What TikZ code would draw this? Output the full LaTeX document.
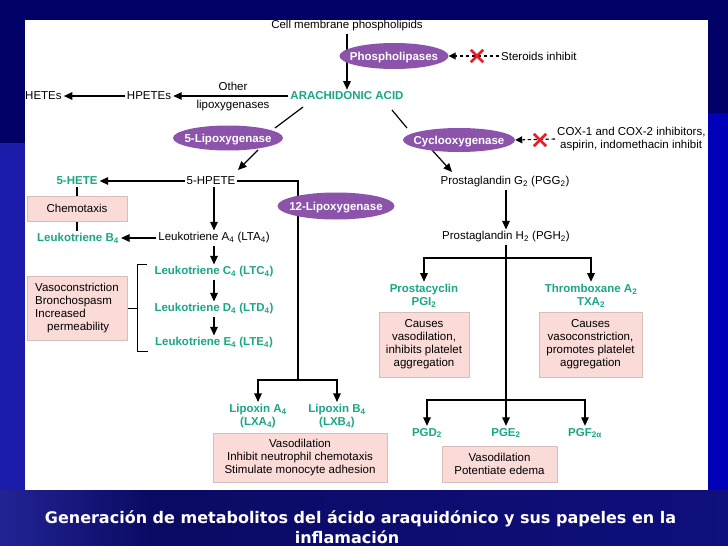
\documentclass[tikz,border=0pt]{standalone}
\usepackage{fontspec}
\setmainfont{Liberation Sans}
\newfontfamily\capfont{DejaVu Sans}
\usetikzlibrary{arrows.meta,shapes.geometric,calc}
\definecolor{navy}{RGB}{0,0,102}
\definecolor{blueR}{RGB}{0,0,185}
\definecolor{blueL}{RGB}{28,28,170}
\definecolor{grnc}{RGB}{27,166,136}
\definecolor{enzc}{RGB}{139,83,170}
\definecolor{pinkf}{RGB}{250,219,215}
\definecolor{pinkd}{RGB}{214,190,186}
\definecolor{xred}{RGB}{232,28,36}
\pgfdeclarelayer{bg}\pgfdeclarelayer{lines}\pgfsetlayers{bg,lines,main}
\begin{document}
\begin{tikzpicture}[x=1pt,y=-1pt,
 txt/.style={inner sep=2pt, font=\fontsize{11.5}{13}\selectfont, align=center},
 grn/.style={txt, text=grnc, font=\fontsize{11.5}{13}\selectfont\bfseries},
 enz/.style={ellipse, fill=enzc, inner sep=0pt},
 enzt/.style={inner sep=0pt, text=white, font=\fontsize{11.5}{13}\selectfont\bfseries},
 box/.style={draw=pinkd, fill=pinkf, line width=0.8pt, inner sep=0pt, align=center, font=\fontsize{11.5}{13}\selectfont},
 conn/.style={line width=1.2pt, black},
 arr/.style={conn, -{Triangle[length=8.5pt,width=7.5pt]}},
 darr/.style={line width=1.1pt, dash pattern=on 3.5pt off 2.5pt, -{Triangle[length=7pt,width=7pt]}},
 redx/.style={xred, line width=2.6pt},
 xbox/.style={inner sep=0pt, minimum width=12pt, minimum height=12pt},
 captxt/.style={text=white, inner sep=0pt, anchor=base, font=\capfont\bfseries\fontsize{16}{20}\selectfont},
]
\useasboundingbox (0,0) rectangle (728,546);
\begin{pgfonlayer}{bg}
\fill[navy] (0,0) rectangle (728,546);
\fill[blueL] (0,143) rectangle (25,490);
\fill[blueR] (708,113) rectangle (728,490);
\shade[left color={rgb,255:red,35;green,35;blue,150}, right color={rgb,255:red,10;green,10;blue,100}] (0,490) rectangle (150,546);
\shade[left color={rgb,255:red,10;green,10;blue,100}, right color={rgb,255:red,15;green,15;blue,125}] (150,490) rectangle (728,546);
\fill[white] (25,20) rectangle (708,490);
\end{pgfonlayer}

% enzymes
\node[enz, minimum width=109pt, minimum height=26pt] (phl) at (394,56) {};
\node[enzt] (phlt) at ($(phl)+(0,1.8)$) {Phospholipases};
\node[enz, minimum width=110pt, minimum height=25pt] (lox5) at (228,138) {};
\node[enzt] (lox5t) at ($(lox5)+(0,1.8)$) {5-Lipoxygenase};
\node[enz, minimum width=112pt, minimum height=24pt] (cox) at (459,140) {};
\node[enzt] (coxt) at ($(cox)+(0,1.8)$) {Cyclooxygenase};
\node[enz, minimum width=117pt, minimum height=27pt] (lox12) at (336,206) {};
\node[enzt] (lox12t) at ($(lox12)+(0,1.8)$) {12-Lipoxygenase};

% texts
\node[txt] (cell) at (347,26) {Cell membrane phospholipids};
\node[txt, anchor=west] (ster) at (499,56) {Steroids inhibit};
\node[grn] (ara) at (347,96) {ARACHIDONIC ACID};
\node[txt] (hpetes) at (149,96) {HPETEs};
\node[txt, anchor=west] (hetes) at (23,96) {HETEs};
\node[txt] (other) at (233,86) {Other};
\node[txt] (lipox) at (233,106) {lipoxygenases};
\node[txt, align=left, anchor=west] (coxinh) at (555,139) {COX-1 and COX-2 inhibitors,\\\hspace*{3pt}aspirin, indomethacin inhibit};
\node[txt] (hpete5) at (211,181) {5-HPETE};
\node[grn] (hete5) at (77,181) {5-HETE};
\node[box, minimum width=100pt, minimum height=25pt] (chemo) at (77,208.5) {Chemotaxis};
\node[grn] (ltb4) at (78,238) {Leukotriene B\textsubscript{4}};
\node[txt] (lta4) at (214,238) {Leukotriene A\textsubscript{4} (LTA\textsubscript{4})};
\node[grn] (ltc4) at (214,272) {Leukotriene C\textsubscript{4} (LTC\textsubscript{4})};
\node[grn] (ltd4) at (214,309) {Leukotriene D\textsubscript{4} (LTD\textsubscript{4})};
\node[grn] (lte4) at (214,343) {Leukotriene E\textsubscript{4} (LTE\textsubscript{4})};
\node[box, minimum width=100pt, minimum height=64pt, align=left] (vaso) at (77,308) {Vasoconstriction\\Bronchospasm\\Increased\\\hspace*{12pt}permeability};
\node[grn] (lxa4) at (258,416) {Lipoxin A\textsubscript{4}\\(LXA\textsubscript{4})};
\node[grn] (lxb4) at (337,416) {Lipoxin B\textsubscript{4}\\(LXB\textsubscript{4})};
\node[box, minimum width=174pt, minimum height=49pt] (lxbox) at (300,457.5) {Vasodilation\\Inhibit neutrophil chemotaxis\\Stimulate monocyte adhesion};
\node[txt] (pgg2) at (505,182) {Prostaglandin G\textsubscript{2} (PGG\textsubscript{2})};
\node[txt] (pgh2) at (506,237) {Prostaglandin H\textsubscript{2} (PGH\textsubscript{2})};
\node[grn] (pgi2) at (424,295.5) {Prostacyclin\\PGI\textsubscript{2}};
\node[grn] (txa2) at (591,295.5) {Thromboxane A\textsubscript{2}\\TXA\textsubscript{2}};
\node[box, minimum width=90pt, minimum height=65pt] (pgibox) at (424,344.5) {Causes\\vasodilation,\\inhibits platelet\\aggregation};
\node[box, minimum width=103pt, minimum height=65pt] (txbox) at (590.5,344.5) {Causes\\vasoconstriction,\\promotes platelet\\aggregation};
\node[grn] (pgd2) at (427,433) {PGD\textsubscript{2}};
\node[grn] (pge2) at (506,433) {PGE\textsubscript{2}};
\node[grn] (pgf2a) at (585,433) {PGF\textsubscript{2α}};
\node[box, minimum width=115pt, minimum height=36pt] (pgebox) at (499.5,464) {Vasodilation\\Potentiate edema};

% red crosses
\node[xbox] (xs) at (477,56) {};
\node[xbox] (xc) at (540,140) {};
\draw[redx] (xs.north west) -- (xs.south east) (xs.north east) -- (xs.south west);
\draw[redx] (xc.north west) -- (xc.south east) (xc.north east) -- (xc.south west);

% caption
\node[captxt] (cap1) at (360.5,523) {Generación de metabolitos del ácido araquidónico y sus papeles en la};
\node[captxt] (cap2) at (347,543) {inflamación};

% junctions
\coordinate (j12) at (298,380);
\coordinate (j1) at (506,258);
\coordinate (j2) at (506,400);
\coordinate (brt) at (147,264);
\coordinate (brb) at (148,351);
\coordinate (brm) at (137,308);

\begin{pgfonlayer}{lines}
\draw[arr] (cell.south) -- (ara.north);
\draw[darr] (ster.west) -- (phl.east);
\draw[darr] (coxinh.west) -- (cox.east);
\draw[arr] (ara.west) -- (hpetes.east);
\draw[arr] (hpetes.west) -- (hetes.east);
\draw[conn] ($(ara)+(-44,11)$) -- ($(lox5)+(47,-10)$);
\draw[arr] ($(lox5)+(30,12)$) -- ($(hpete5)+(27,-11)$);
\draw[conn] ($(ara)+(45,14)$) -- ($(cox)+(-52,-12)$);
\draw[arr] ($(cox)+(-27,10)$) -- ($(pgg2)+(-53,-10)$);
\draw[arr] (hpete5.west) -- (hete5.east);
\draw[conn] (hpete5.east) -| (j12);
\draw[arr] (j12) -| (lxa4.north);
\draw[arr] (j12) -| (lxb4.north);
\draw[conn] (hete5.south) -- (chemo.north);
\draw[conn] (chemo.south) -- (chemo.south |- ltb4.north);
\draw[arr] (lta4.west) -- (ltb4.east);
\draw[arr] (lta4.north |- hpete5.south) -- (lta4.north);
\draw[arr] (lta4.south) -- (ltc4.north);
\draw[arr] (ltc4.south) -- (ltd4.north);
\draw[arr] (ltd4.south) -- (lte4.north);
\draw[line width=0.9pt] (brt) -- (brt -| brm) -- (brb -| brm) -- (brb);
\draw[line width=0.9pt] (vaso.east) -- (brm);
\draw[arr] (pgh2.north |- pgg2.south) -- (pgh2.north);
\draw[arr] (pgh2.south) -- (pge2.north);
\draw[arr] (j1) -| (pgi2.north);
\draw[arr] (j1) -| (txa2.north);
\draw[arr] (j2) -| (pgd2.north);
\draw[arr] (j2) -| (pgf2a.north);
\end{pgfonlayer}
\end{tikzpicture}
\end{document}
